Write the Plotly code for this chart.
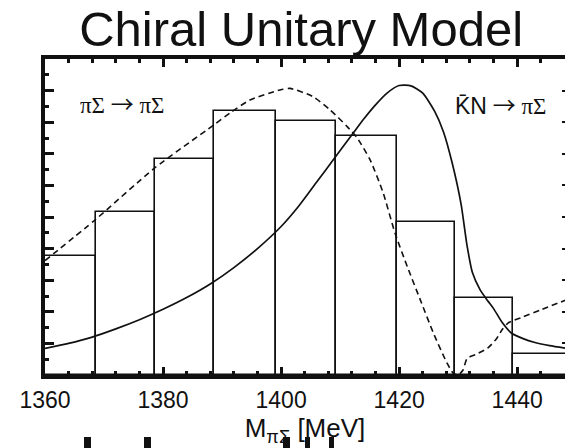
import plotly.graph_objects as go

# Histogram (data) - bin edges in MeV and heights (arb. units)
bin_edges = [1358.6, 1368.6, 1378.6, 1388.7, 1399.2, 1409.3, 1419.6, 1429.5, 1439.3, 1449.3]
bin_heights = [3.77, 5.16, 6.84, 8.36, 8.04, 7.57, 4.85, 2.45, 0.65]

# Solid curve: Kbar N -> pi Sigma
kn_x = [1360, 1364, 1368, 1372, 1376, 1380, 1384, 1388, 1392, 1396, 1400, 1403, 1406,
        1409, 1412, 1414, 1416, 1418, 1420, 1422, 1424, 1426, 1427.5, 1429, 1430.5,
        1431.5, 1432.4, 1433.7, 1435, 1436, 1437.5, 1439, 1441, 1443, 1445.5, 1448.2]
kn_y = [0.84, 1.0, 1.2, 1.46, 1.75, 2.08, 2.45, 2.88, 3.4, 4.0, 4.7, 5.35, 6.1,
        6.85, 7.6, 8.1, 8.55, 8.93, 9.16, 9.15, 8.92, 8.35, 7.7, 6.7, 5.4,
        4.1, 3.25, 2.7, 2.35, 2.1, 1.65, 1.33, 1.15, 1.03, 0.93, 0.85]

# Dashed curve: pi Sigma -> pi Sigma
ps_x = [1360, 1368.5, 1378.5, 1388.5, 1391.4, 1394.7, 1399.8, 1401.5, 1405.4, 1408.3,
        1411.2, 1412.9, 1415.1, 1417.3, 1419.3, 1421.4, 1423.6, 1425.8, 1428.1, 1429.2,
        1430.0, 1430.8, 1431.5, 1433, 1435, 1436.5, 1437.5, 1438.5, 1441, 1444, 1448.2]
ps_y = [3.62, 4.91, 6.54, 7.9, 8.3, 8.70, 9.02, 9.07, 8.81, 8.39,
        7.86, 7.5, 6.8, 5.76, 4.49, 3.42, 2.37, 1.33, 0.38, 0.05,
        0.0, 0.15, 0.52, 0.65, 0.85, 1.15, 1.45, 1.65, 1.84, 2.06, 2.37]

x_range = [1360, 1448.1]
y_range = [0, 10]

centers = [(a + b) / 2 for a, b in zip(bin_edges[:-1], bin_edges[1:])]
widths = [b - a for a, b in zip(bin_edges[:-1], bin_edges[1:])]

fig = go.Figure()
fig.add_trace(go.Bar(x=centers, y=bin_heights, width=widths,
                     marker=dict(color="rgba(0,0,0,0)", line=dict(color="#111", width=1.6)),
                     showlegend=False, hoverinfo="skip"))
fig.add_trace(go.Scatter(x=ps_x, y=ps_y, mode="lines",
                         line=dict(color="#111", width=1.6, dash="6px,4px", shape="spline", smoothing=0.6),
                         showlegend=False, hoverinfo="skip"))
fig.add_trace(go.Scatter(x=kn_x, y=kn_y, mode="lines",
                         line=dict(color="#111", width=1.7, shape="spline", smoothing=0.6),
                         showlegend=False, hoverinfo="skip"))
# invisible trace for right-hand tick axis
fig.add_trace(go.Scatter(x=[1400], y=[-5], yaxis="y2", mode="markers", marker=dict(opacity=0),
                         showlegend=False, hoverinfo="skip"))

ARROW = "<span style='font-family:Noto Sans CJK SC'>→</span>"
fig.add_annotation(x=1373.2, y=8.6, xref="x", yref="y", showarrow=False,
                   text="πΣ " + ARROW + " πΣ",
                   font=dict(family="Liberation Serif", size=23, color="#111"))
fig.add_annotation(x=1437.1, y=8.58, xref="x", yref="y", showarrow=False,
                   text="<span style='font-family:Liberation Sans'>K\u0304N</span> " + ARROW + " πΣ",
                   font=dict(family="Liberation Serif", size=23, color="#111"))

# scanner fragments of a neighbouring figure visible at the very bottom edge
frag_x = [(84, 91), (144, 151), (283, 290), (305, 310), (329, 334)]
for x0, x1 in frag_x:
    fig.add_shape(type="rect", xref="paper", yref="paper",
                  x0=(x0 - 45) / 520, x1=(x1 - 45) / 520,
                  y0=(375 - 450) / 316, y1=(375 - 437) / 316,
                  fillcolor="#111", line=dict(width=0), layer="above")

fig.update_layout(
    width=565, height=448,
    margin=dict(l=45, r=0, t=59, b=73),
    plot_bgcolor="white", paper_bgcolor="white",
    bargap=0,
    title=dict(text="Chiral Unitary Model", x=0.533, xref="container", xanchor="center",
               y=0.935, yref="container", yanchor="middle",
               font=dict(family="Liberation Sans", size=49, color="#111")),
    xaxis=dict(range=x_range, showline=True, linewidth=3.5, linecolor="#111", mirror="ticks",
               ticks="inside", ticklen=8, tickwidth=3, tickcolor="#111",
               tick0=1360, dtick=20,
               minor=dict(dtick=4, ticks="inside", ticklen=4, tickwidth=3, tickcolor="#111", showgrid=False),
               showgrid=False, zeroline=False,
               tickfont=dict(family="Liberation Sans", size=23, color="#111"),
               ticklabelstandoff=2,
               title=dict(text="M<sub>πΣ</sub> [MeV]", standoff=6,
                          font=dict(family="Liberation Sans", size=26, color="#111"))),
    yaxis=dict(range=y_range, showline=True, linewidth=4, linecolor="#111",
               ticks="inside", ticklen=9, tickwidth=3, tickcolor="#111", dtick=1,
               minor=dict(dtick=0.5, ticks="inside", ticklen=4, tickwidth=3, tickcolor="#111", showgrid=False),
               showticklabels=False, showgrid=False, zeroline=False),
    yaxis2=dict(range=y_range, overlaying="y", side="right", showline=False,
                ticks="inside", ticklen=3, tickwidth=2, tickcolor="#111", dtick=1,
                showticklabels=False, showgrid=False, zeroline=False),
)

fig.write_html("out.html")
